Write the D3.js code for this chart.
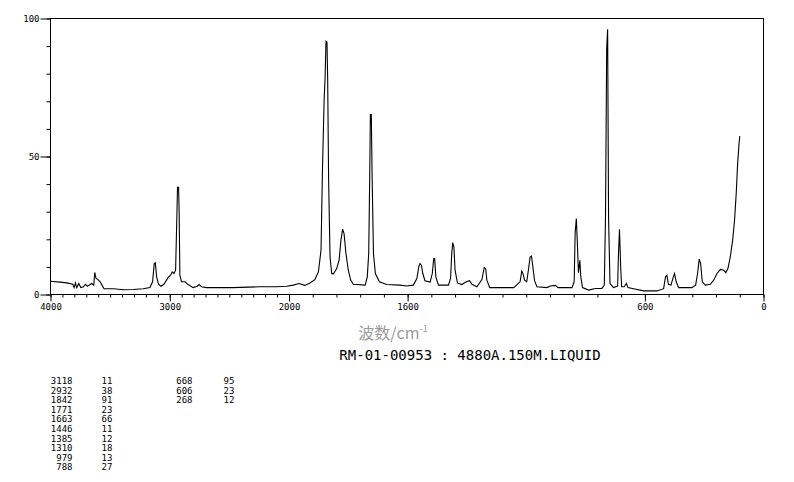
<!DOCTYPE html>
<html>
<head>
<meta charset="utf-8">
<script src="https://cdn.jsdelivr.net/npm/d3@7"></script>
<style>
  html, body { margin: 0; padding: 0; background: #fff; }
  svg { display: block; }
</style>
</head>
<body>
<svg id="chart" width="794" height="482"></svg>
<script>
// ---- data ----
const wavenumber = [
  4000,3919,3863,3813,3802,3791,3780,3763,3746,3724,3707,3690,3654,3637,3629,3618,3601,3584,3568,3551,
  3473,3389,3306,3222,3166,3144,3130,3121,3110,3094,3074,3049,3013,2993,2979,2965,2951,2943,2935,2926,
  2921,2915,2901,2873,2845,2804,2770,2753,2734,2692,2469,2246,2107,2020,1982,1958,1933,1912,1891,1876,
  1865,1859,1852,1848,1844,1840,1837,1833,1827,1820,1813,1799,1789,1781,1774,1768,1760,1750,1740,1729,
  1679,1670,1664,1660,1657,1653,1650,1644,1636,1619,1588,1532,1504,1476,1461,1453,1448,1442,1436,1427,
  1405,1396,1390,1386,1381,1370,1328,1319,1314,1310,1305,1300,1290,1272,1253,1239,1229,1208,1187,1177,
  1171,1166,1154,1053,1039,1026,1019,1015,1007,998,989,984,978,972,965,955,913,898,877,866,
  807,798,794,789,785,780,774,770,763,737,709,681,671,666,661,657,653,647,632,615,
  611,607,602,598,587,578,571,548,505,449,421,413,407,401,390,380,375,368,358,302,
  286,278,271,265,258,245,224,210,196,182,168,159,150,140,130,122,115,109,103,100
];
const intensity = [
  4.8,4.5,4.2,3.7,2.5,4.2,2.5,4.0,2.5,2.8,3.7,3.0,4.0,3.4,8.0,5.8,5.4,4.6,3.4,2.1,
  2.1,1.7,1.8,2.1,2.5,4.6,11.2,11.5,6.4,3.7,3.0,3.7,6.2,7.0,8.2,7.6,8.8,23.3,38.8,38.8,
  29.3,7.0,4.6,4.6,3.6,2.5,3.0,3.6,2.8,2.5,2.5,2.8,2.8,3.0,3.4,4.0,3.3,4.2,5.4,8.2,
  16.1,45.0,70.4,78.3,91.8,91.5,78.3,41.4,13.6,7.6,7.4,9.4,12.4,19.7,23.7,22.1,14.9,8.8,5.2,3.7,
  3.4,6.4,14.9,41.4,65.2,65.2,44.4,14.9,7.6,4.6,3.6,3.4,3.1,3.4,5.8,10.0,11.2,10.6,7.6,5.0,
  4.5,7.6,13.0,13.0,6.4,3.4,3.4,5.8,14.9,18.8,17.3,8.8,4.2,3.6,4.6,5.0,3.7,2.8,5.4,9.8,
  9.4,5.2,2.5,2.5,3.6,4.6,8.5,7.9,5.2,4.6,10.0,13.6,13.9,10.0,5.0,2.8,2.5,3.1,3.3,2.5,
  2.5,4.6,22.1,27.5,19.7,7.9,12.4,6.4,2.5,1.6,2.2,2.2,3.4,28.1,89.1,96.1,27.5,4.0,2.5,3.0,
  15.2,23.6,10.0,2.8,2.8,4.0,2.5,2.1,1.3,1.3,2.1,6.4,6.9,3.7,3.4,6.4,7.6,4.6,2.5,2.5,
  3.4,7.6,12.8,11.2,4.6,3.4,3.7,5.2,7.6,9.1,8.8,7.9,9.4,13.6,19.7,26.9,36.6,47.5,54.7,57.4
];

const xMajorTicks = [4000, 3000, 2000, 1500, 500, 0];
const xMajorLabels = ["4000", "3000", "2000", "1600", "600", "0"];
const yMajorTicks = [0, 50, 100];

const peakWavenumbers = [3118, 2932, 1842, 1771, 1663, 1446, 1385, 1310, 979, 788, 668, 606, 268];
const peakIntensities = [11, 38, 91, 23, 66, 11, 12, 18, 13, 27, 95, 23, 12];

const axisTitle = "波数/cm";
const sampleTitle = "RM-01-00953 : 4880A.150M.LIQUID";

// ---- drawing ----
const svg = d3.select("#chart");
const x = d3.scaleLinear().domain([4000, 2000, 0]).range([50.5, 289, 763.5]);
const y = d3.scaleLinear().domain([0, 100]).range([294.5, 18.5]);

const mono = "'DejaVu Sans Mono', 'Liberation Mono', monospace";

// minor x ticks every 100
const xMinor = d3.axisBottom(x).tickValues(d3.range(0, 4001, 100)).tickSize(3).tickFormat("").tickSizeOuter(0);
const gxm = svg.append("g").attr("transform", `translate(0,${y(0)})`).call(xMinor);
gxm.select(".domain").remove();

const xMajor = d3.axisBottom(x).tickValues(xMajorTicks).tickSize(7).tickPadding(2)
  .tickFormat((d, i) => xMajorLabels[i]).tickSizeOuter(0);
const gx = svg.append("g").attr("transform", `translate(0,${y(0)})`).call(xMajor);
gx.select(".domain").remove();
gx.selectAll("text").attr("font-family", mono).attr("font-size", 9).attr("fill", "#000");

// y ticks
const yMinor = d3.axisLeft(y).tickValues(d3.range(0, 101, 10)).tickSize(4).tickFormat("").tickSizeOuter(0);
const gym = svg.append("g").attr("transform", `translate(${x(4000)},0)`).call(yMinor);
gym.select(".domain").remove();

const yMajor = d3.axisLeft(y).tickValues(yMajorTicks).tickSize(10).tickPadding(1).tickSizeOuter(0);
const gy = svg.append("g").attr("transform", `translate(${x(4000)},0)`).call(yMajor);
gy.select(".domain").remove();
gy.selectAll("text").attr("font-family", mono).attr("font-size", 9).attr("fill", "#000");

svg.selectAll(".tick line").attr("stroke", "#000");

// frame
svg.append("rect")
  .attr("x", x(4000)).attr("y", y(100))
  .attr("width", x(0) - x(4000)).attr("height", y(0) - y(100))
  .attr("fill", "none").attr("stroke", "#000").attr("stroke-width", 1);

// spectrum
const pts = wavenumber.map((w, i) => [w, intensity[i]]);
const line = d3.line().x(d => x(d[0])).y(d => y(d[1]));
svg.append("path").datum(pts)
  .attr("d", line)
  .attr("fill", "none").attr("stroke", "#000").attr("stroke-width", 1.1)
  .attr("stroke-linejoin", "miter");

// axis title
const t = svg.append("text").attr("x", 393).attr("y", 339)
  .attr("text-anchor", "middle")
  .attr("font-family", "'Noto Sans CJK SC', sans-serif")
  .attr("font-size", 16).attr("fill", "#9a9a9a");
t.append("tspan").text(axisTitle);
t.append("tspan").attr("dy", -7).attr("font-size", 9).text("-1");

svg.append("text").attr("x", 470).attr("y", 360)
  .attr("text-anchor", "middle")
  .attr("font-family", mono).attr("font-size", 14).attr("fill", "#000")
  .text(sampleTitle);

// peak table
const rowH = 9.6, row0 = 384;
peakWavenumbers.forEach((w, i) => {
  const col = i < 10 ? 0 : 1;
  const r = i < 10 ? i : i - 10;
  const yy = row0 + r * rowH;
  svg.append("text").attr("x", col === 0 ? 72.5 : 192.5).attr("y", yy)
    .attr("text-anchor", "end").attr("font-family", mono).attr("font-size", 9).text(w);
  svg.append("text").attr("x", col === 0 ? 101.5 : 223.5).attr("y", yy)
    .attr("text-anchor", "start").attr("font-family", mono).attr("font-size", 9).text(peakIntensities[i]);
});
</script>
</body>
</html>
